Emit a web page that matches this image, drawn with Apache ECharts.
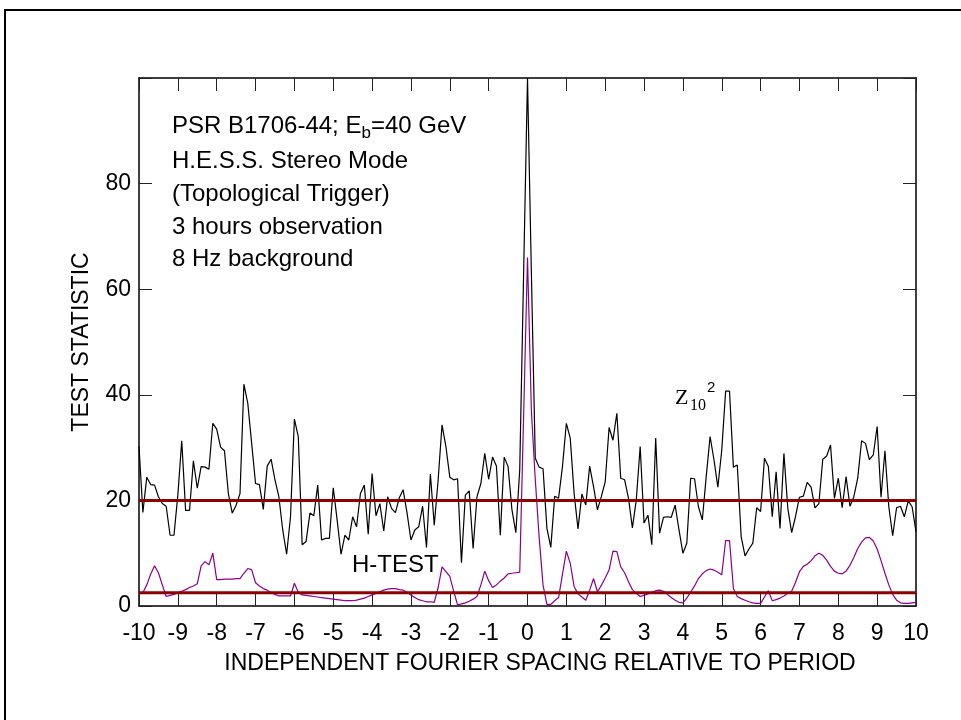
<!DOCTYPE html>
<html>
<head>
<meta charset="utf-8">
<script src="https://cdn.jsdelivr.net/npm/echarts@6/dist/echarts.min.js"></script>
<style>
html,body{margin:0;padding:0;background:#fff;}
#chart{width:961px;height:720px;}
</style>
</head>
<body>
<div id="chart"></div>
<script>
// x grid: -10 .. 10 in steps of 0.1 (independent Fourier spacing)
const xStart = -10;
const xStep = 0.1;
// Z_10^2 test statistic (black)
const zValues = [
  30.2, 17.7, 24.4, 23.0, 22.9, 20.7, 19.4, 18.9, 13.4, 13.4,
  21.0, 31.3, 18.1, 18.1, 27.5, 22.3, 26.4, 26.3, 25.9, 34.6,
  33.5, 30.1, 29.4, 21.3, 17.6, 19.1, 21.3, 42.0, 38.4, 30.8,
  23.2, 23.0, 18.3, 26.5, 27.8, 23.9, 20.7, 14.4, 9.8, 16.9,
  35.4, 32.1, 11.6, 12.2, 17.6, 17.1, 22.9, 12.5, 12.8, 12.8,
  22.4, 16.3, 9.8, 13.4, 12.5, 16.9, 15.0, 21.3, 22.9, 13.6,
  25.1, 17.1, 19.4, 14.2, 20.7, 18.5, 17.7, 20.5, 22.0, 17.6,
  12.5, 14.4, 15.0, 18.9, 11.1, 25.0, 15.3, 23.9, 34.3, 30.2,
  24.4, 23.9, 24.1, 8.2, 21.0, 21.8, 10.9, 20.7, 23.2, 28.9,
  24.0, 28.2, 26.5, 13.4, 28.2, 26.4, 18.2, 13.9, 25.8, 63.0,
  100.0, 63.0, 28.0, 26.3, 26.0, 14.7, 11.1, 20.8, 20.4, 26.4,
  34.6, 31.8, 21.3, 14.6, 21.2, 19.1, 26.5, 22.6, 18.2, 20.7,
  23.5, 33.8, 31.4, 36.5, 24.2, 23.9, 20.4, 14.8, 20.1, 30.2,
  15.7, 17.2, 11.6, 31.8, 13.8, 16.8, 16.9, 16.8, 19.1, 14.4,
  10.0, 11.9, 24.2, 24.1, 18.8, 16.3, 24.5, 32.1, 27.7, 22.5,
  29.5, 40.7, 40.7, 26.3, 26.7, 13.1, 9.5, 10.8, 11.9, 18.6,
  17.9, 28.0, 26.4, 16.9, 25.4, 14.7, 28.9, 18.5, 13.9, 17.0,
  20.6, 20.8, 23.4, 22.5, 18.6, 19.4, 27.8, 28.4, 30.5, 20.4,
  24.2, 18.6, 24.5, 18.9, 20.7, 24.2, 31.3, 30.8, 27.7, 28.6,
  34.0, 20.6, 29.4, 18.8, 13.3, 18.6, 18.9, 16.9, 19.9, 18.8,
  14.1
];
// H-test statistic (purple)
const hValues = [
  2.3, 2.5, 4.0, 6.0, 7.6, 6.3, 4.0, 1.8, 2.0, 2.2,
  2.5, 2.8, 3.1, 3.5, 3.8, 4.2, 7.6, 8.4, 7.8, 10.0,
  5.0, 5.0, 5.1, 5.1, 5.1, 5.2, 5.2, 6.2, 7.1, 6.9,
  4.4, 3.8, 3.3, 3.0, 2.5, 2.2, 1.9, 1.9, 1.9, 1.9,
  4.3, 2.6, 2.1, 2.0, 1.9, 1.8, 1.7, 1.6, 1.5, 1.4,
  1.3, 1.2, 1.1, 1.0, 1.0, 1.0, 1.1, 1.3, 1.5, 1.8,
  2.1, 2.4, 2.7, 3.0, 3.2, 3.3, 3.3, 3.1, 3.0, 2.6,
  2.1, 1.6, 1.2, 1.0, 0.8, 0.8, 0.7, 3.5, 7.4, 6.5,
  5.6, 2.8, 0.2, 0.4, 0.6, 0.9, 1.3, 1.8, 4.0, 6.6,
  4.8, 3.5, 4.0, 4.7, 5.3, 6.1, 6.2, 6.3, 6.4, 36.0,
  66.0, 37.0, 24.0, 13.0, 4.0, 0.3, 0.3, 1.0, 1.6, 6.0,
  10.4, 8.1, 3.7, 2.3, 1.7, 1.1, 3.0, 5.2, 2.7, 3.9,
  5.3, 6.8, 10.4, 10.3, 7.4, 6.3, 4.6, 3.1, 2.4, 1.8,
  2.0, 2.3, 2.6, 2.9, 3.0, 2.8, 2.2, 1.6, 1.1, 0.7,
  0.6, 1.5, 2.6, 3.8, 5.2, 6.1, 6.7, 7.0, 6.8, 6.4,
  5.9, 12.4, 12.4, 3.3, 1.8, 1.4, 1.1, 0.8, 0.6, 0.5,
  0.5, 1.7, 2.9, 1.0, 1.2, 1.5, 1.9, 2.4, 2.8, 4.5,
  6.5, 7.5, 7.9, 8.6, 9.5, 10.0, 9.6, 8.7, 7.5, 6.6,
  6.2, 6.1, 6.6, 7.7, 9.2, 10.9, 12.1, 12.9, 13.0, 12.3,
  10.8, 8.6, 6.2, 4.0, 2.2, 1.1, 0.6, 0.5, 0.5, 0.6,
  0.7
];
// horizontal threshold levels (dark red)
const thresholds = [20, 2.5];
const xRange = [-10, 10];
const yRange = [0, 100];
const annotationLines = [
  ['PSR B1706-44; E', 'b', '=40 GeV'],
  ['H.E.S.S. Stereo Mode'],
  ['(Topological Trigger)'],
  ['3 hours observation'],
  ['8 Hz background']
];
const xTitle = 'INDEPENDENT FOURIER SPACING RELATIVE TO PERIOD';
const yTitle = 'TEST STATISTIC';

const SANS = '"Liberation Sans", Arial, Helvetica, sans-serif';
const SERIF = '"Liberation Serif", "Times New Roman", serif';
const FS = 24;

const toPairs = vals => vals.map((v, i) => [Math.round((xStart + i * xStep) * 10) / 10, v]);

const chart = echarts.init(document.getElementById('chart'), null, {renderer: 'canvas'});

const G = {left: 139, top: 78, width: 777, height: 528};

const mctx = document.createElement('canvas').getContext('2d');
function tw(text, size, fam) { mctx.font = size + 'px ' + fam; return mctx.measureText(text).width; }

const graphics = [];
// outer frame (only top and left edges fall inside the picture)
graphics.push({type: 'rect', shape: {x: 5, y: 10, width: 1000, height: 800}, style: {fill: 'none', stroke: '#000', lineWidth: 2}, z: 0});
// annotation lines
const lineY = [126, 161, 194, 227, 259];
annotationLines.forEach((parts, k) => {
  let x = 172;
  const y = lineY[k];
  parts.forEach((p, j) => {
    const isSub = parts.length === 3 && j === 1;
    const size = isSub ? 17 : FS;
    graphics.push({type: 'text', x: x, y: isSub ? y + 7 : y, style: {text: p, font: size + 'px ' + SANS, fill: '#000', textVerticalAlign: 'middle', textAlign: 'left'}, z: 10});
    x += tw(p, size, SANS);
  });
});
// Z_10^2 label
graphics.push({type: 'text', x: 675, y: 398, style: {text: 'Z', font: '22px ' + SERIF, fill: '#000', textVerticalAlign: 'middle'}, z: 10});
graphics.push({type: 'text', x: 690, y: 406, style: {text: '10', font: '16px ' + SERIF, fill: '#000', textVerticalAlign: 'middle'}, z: 10});
graphics.push({type: 'text', x: 707, y: 388, style: {text: '2', font: '15px ' + SANS, fill: '#000', textVerticalAlign: 'middle'}, z: 10});
// H-TEST label
graphics.push({type: 'text', x: 352, y: 565, style: {text: 'H-TEST', font: FS + 'px ' + SANS, fill: '#000', textVerticalAlign: 'middle'}, z: 10});
// axis titles
graphics.push({type: 'text', x: 540, y: 664, style: {text: xTitle, font: '23px ' + SANS, fill: '#000', textAlign: 'center', textVerticalAlign: 'middle'}, z: 10});
graphics.push({type: 'text', x: 82, y: 342, rotation: Math.PI / 2, style: {text: yTitle, font: '23px ' + SANS, fill: '#000', textAlign: 'center', textVerticalAlign: 'middle'}, z: 10});

const axisLine = {show: true, onZero: false, lineStyle: {color: '#000', width: 1.5}};
const tickIn = {show: true, inside: true, length: 13, lineStyle: {color: '#222', width: 1}};

const option = {
  backgroundColor: '#fff',
  animation: false,
  grid: {left: G.left, top: G.top, width: G.width, height: G.height, containLabel: false},
  xAxis: [
    {type: 'value', min: xRange[0], max: xRange[1], interval: 1, position: 'bottom',
      axisLine: axisLine, axisTick: tickIn, splitLine: {show: false},
      axisLabel: {show: true, margin: 16, color: '#000', fontSize: 23, fontFamily: SANS}},
    {type: 'value', min: xRange[0], max: xRange[1], interval: 1, position: 'top',
      axisLine: axisLine, axisTick: tickIn, splitLine: {show: false}, axisLabel: {show: false}}
  ],
  yAxis: [
    {type: 'value', min: yRange[0], max: yRange[1], interval: 20, position: 'left',
      axisLine: axisLine, axisTick: tickIn, splitLine: {show: false},
      axisLabel: {show: true, margin: 8, color: '#000', fontSize: 23, fontFamily: SANS,
        formatter: v => (v >= yRange[1] ? '' : String(v))}},
    {type: 'value', min: yRange[0], max: yRange[1], interval: 20, position: 'right',
      axisLine: axisLine, axisTick: tickIn, splitLine: {show: false}, axisLabel: {show: false}}
  ],
  series: [
    {name: 'Z10^2', type: 'line', data: toPairs(zValues), symbol: 'none', z: 2,
      lineStyle: {color: '#000', width: 1.2}},
    {name: 'H-TEST', type: 'line', data: toPairs(hValues), symbol: 'none', z: 3,
      lineStyle: {color: '#8b008b', width: 1.2}}
  ].concat(thresholds.map((t, k) => ({
    name: 'level' + k, type: 'line', data: [[xRange[0], t], [xRange[1], t]], symbol: 'none', z: 4,
    lineStyle: {color: '#8b0000', width: 3}
  }))),
  graphic: graphics
};
chart.setOption(option);
</script>
</body>
</html>
